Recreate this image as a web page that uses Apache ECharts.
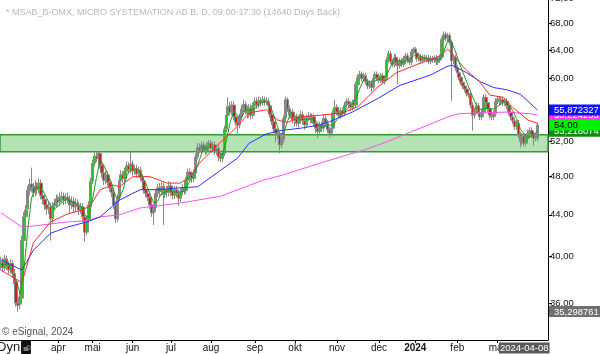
<!DOCTYPE html>
<html><head><meta charset="utf-8">
<script src="https://cdn.jsdelivr.net/npm/echarts@6/dist/echarts.min.js"></script>
<style>html,body{margin:0;padding:0;background:#fff;overflow:hidden}#c{width:600px;height:354px}</style>
</head><body><div id="c"></div>
<script>
// ---- calendar ----
const startDate = '2023-02-20';
const endDate = '2024-04-08';
const holidays = ['2023-04-07','2023-04-10','2023-05-01','2023-05-18','2023-06-06','2023-06-23','2023-12-25','2023-12-26','2024-01-01','2024-03-29','2024-04-01'];
const monthNames = ['jan','feb','mar','apr','mai','jun','jul','aug','sep','okt','nov','dec'];
const blankSlots = ['b1','b2'];

// ---- OHLC ----
const opens = [
39.2,39.5,39.0,39.8,39.2,38.8,39.4,38.5,37.8,36.0,
35.9,36.4,41.5,43.8,44.6,46.5,47.2,46.8,46.3,47.0,
46.6,47.3,46.0,45.6,45.0,44.6,44.8,43.6,44.9,45.2,
45.6,45.3,45.8,45.9,45.5,45.8,45.6,45.0,45.4,44.8,
45.2,44.9,44.5,44.8,43.8,42.3,43.5,45.0,47.5,49.5,
50.3,50.0,50.6,49.3,48.4,47.6,48.2,47.4,46.8,46.3,
45.0,43.6,45.8,47.6,48.2,47.8,48.6,49.2,48.8,49.4,
48.6,48.9,48.3,48.7,47.9,47.5,46.6,46.2,45.8,45.0,
44.2,44.7,46.2,46.8,46.4,46.9,46.1,46.6,46.3,47.0,
46.4,46.0,46.6,46.2,45.7,46.4,46.8,46.5,47.6,48.5,
48.2,47.8,48.4,50.2,51.3,51.0,51.6,51.2,50.9,51.5,
51.8,51.3,51.6,50.8,51.2,50.2,50.0,50.6,53.5,55.2,
56.3,55.6,56.5,55.0,54.3,54.0,55.0,56.0,56.6,55.8,
55.4,56.1,55.2,56.4,57.0,56.5,57.1,56.8,57.2,56.9,
57.0,56.4,55.3,54.4,53.5,53.0,52.8,51.6,52.2,54.8,
57.2,56.0,55.2,55.6,54.6,55.0,54.2,54.8,55.3,54.5,
54.0,54.9,55.1,54.6,55.0,54.2,53.6,53.2,54.0,53.6,
54.8,54.2,53.4,53.0,53.6,55.5,56.2,55.6,55.2,55.8,
55.4,56.5,57.0,56.6,56.2,56.8,56.5,59.2,60.2,60.6,
60.0,60.4,59.6,59.0,59.4,58.8,60.0,60.6,60.1,59.8,
60.4,59.6,60.0,62.6,63.5,62.4,62.0,63.0,62.2,61.8,
62.5,62.0,62.8,63.2,62.6,62.3,63.8,64.2,63.6,62.8,
63.1,62.5,63.0,62.7,62.9,62.4,62.8,62.6,62.9,62.3,
62.6,63.0,65.6,66.3,65.8,66.2,65.2,62.5,63.0,61.5,
60.8,60.2,59.5,59.0,58.6,58.0,57.8,56.5,55.2,55.8,
56.4,55.4,55.0,55.6,57.5,56.8,56.0,55.2,55.0,55.4,
57.0,57.3,56.9,57.2,56.8,57.0,56.4,55.6,55.0,54.5,
53.8,54.2,52.8,52.0,52.6,51.8,52.4,53.0,53.3,52.8,
52.4,52.4];
const closes = [
39.5,39.0,39.8,39.2,38.8,39.4,38.5,37.6,36.0,35.8,
36.5,41.5,43.8,44.5,46.5,47.2,46.8,46.3,47.0,46.6,
47.3,46.0,45.6,45.0,44.6,44.8,43.6,44.9,45.2,45.6,
45.3,45.8,45.9,45.5,45.8,45.6,45.0,45.4,44.8,45.2,
44.9,44.5,44.8,43.8,42.3,43.5,45.0,47.5,49.5,50.3,
50.0,50.6,49.3,48.4,47.6,48.2,47.4,46.8,46.3,45.0,
43.6,45.8,47.6,48.2,47.8,48.6,49.2,48.8,49.4,48.6,
48.9,48.3,48.7,47.9,47.5,46.6,46.2,45.8,45.0,44.2,
44.7,46.2,46.8,46.4,46.9,46.1,46.6,46.3,47.0,46.4,
46.0,46.6,46.2,45.7,46.4,46.8,46.5,47.6,48.5,48.2,
47.8,48.4,50.2,51.3,51.0,51.6,51.2,50.9,51.5,51.8,
51.3,51.6,50.8,51.2,50.2,50.0,50.6,53.5,55.2,56.3,
55.6,56.5,55.0,54.3,54.0,55.0,56.0,56.6,55.8,55.4,
56.1,55.2,56.4,57.0,56.5,57.1,56.8,57.2,56.9,57.0,
56.4,55.3,54.4,53.5,53.0,52.8,51.6,52.2,54.8,57.2,
56.0,55.2,55.6,54.6,55.0,54.2,54.8,55.3,54.5,54.0,
54.9,55.1,54.6,55.0,54.2,53.6,53.2,54.0,53.6,54.8,
54.2,53.4,53.0,53.6,55.5,56.2,55.6,55.2,55.8,55.4,
56.5,57.0,56.6,56.2,56.8,56.5,59.2,60.2,60.6,60.0,
60.4,59.6,59.0,59.4,58.8,60.0,60.6,60.1,59.8,60.4,
59.6,60.0,62.6,63.5,62.4,62.0,63.0,62.2,61.8,62.5,
62.0,62.8,63.2,62.6,62.3,63.8,64.2,63.6,62.8,63.1,
62.5,63.0,62.7,62.9,62.4,62.8,62.6,62.9,62.3,62.6,
63.0,65.6,66.3,65.8,66.2,65.2,62.5,63.0,61.5,60.8,
60.2,59.5,59.0,58.6,58.0,57.8,56.5,55.2,55.8,56.4,
55.4,55.0,55.6,57.5,56.8,56.0,55.2,55.0,55.4,57.0,
57.3,56.9,57.2,56.8,57.0,56.4,55.6,55.0,54.5,53.8,
54.2,52.8,52.0,52.6,51.8,52.4,53.0,53.3,52.8,52.4,
52.6,54.0];
const highs = [
40.0,39.9,40.2,40.1,39.6,39.8,39.7,38.9,38.1,36.4,
36.9,41.9,44.3,45.0,47.0,47.8,49.0,47.3,47.6,47.4,
47.8,47.7,46.4,46.0,45.4,45.3,45.2,45.3,45.7,46.1,
46.0,46.3,46.4,46.3,46.2,46.3,46.0,45.9,45.8,45.7,
45.6,45.3,45.2,45.2,44.2,43.9,45.4,47.9,49.9,50.7,
50.8,50.9,50.8,49.7,48.8,48.6,48.6,47.8,47.2,46.7,
45.4,46.1,48.0,48.7,48.6,49.0,49.7,49.6,50.8,49.8,
49.3,49.3,49.1,49.1,48.3,47.9,47.0,46.6,46.2,45.4,
45.1,46.6,47.2,47.3,47.4,47.3,47.0,47.0,47.5,47.4,
46.8,47.0,47.0,46.6,46.8,47.2,47.2,48.0,48.9,48.9,
48.6,48.8,50.6,51.8,51.8,52.0,52.0,51.6,52.0,52.2,
52.2,52.0,52.0,51.6,51.6,50.6,51.0,53.9,55.6,57.5,
56.9,57.0,57.0,55.5,54.8,55.4,56.5,57.2,57.0,56.4,
56.6,56.6,56.8,57.5,57.5,57.6,57.5,57.7,57.6,57.5,
57.4,56.8,55.7,54.8,53.9,53.4,53.2,52.6,55.2,57.6,
57.5,56.4,56.0,56.0,55.5,55.4,55.2,55.8,55.7,55.0,
55.3,55.6,55.5,55.4,55.4,54.6,54.0,54.4,54.4,55.3,
55.2,54.6,53.8,54.0,55.9,57.2,56.6,56.0,56.2,56.2,
56.9,57.4,57.4,57.0,57.2,57.2,59.6,60.6,61.1,61.0,
60.8,60.8,60.0,59.8,59.8,60.4,61.0,61.0,60.5,60.8,
60.8,60.4,63.0,64.0,63.9,62.8,63.5,63.4,62.6,62.9,
62.9,63.2,63.6,63.6,63.0,64.2,64.5,64.5,64.0,63.5,
63.5,63.4,63.4,63.3,63.3,63.2,63.2,63.3,63.3,63.0,
63.4,66.0,66.8,66.8,66.6,66.6,65.6,63.4,63.4,61.9,
61.2,60.6,59.9,59.4,59.0,58.4,58.2,56.9,56.2,56.8,
56.8,55.8,56.0,57.9,57.9,57.2,56.4,55.6,55.8,57.4,
57.7,57.7,57.6,57.6,57.4,57.4,56.8,56.0,55.4,54.9,
54.6,54.6,53.2,53.0,53.0,52.8,53.4,53.7,53.7,53.2,
53.0,54.3];
const lows = [
38.8,38.6,38.7,38.8,38.4,38.5,38.1,37.2,35.7,35.3,
35.5,36.1,41.0,43.3,44.2,46.0,46.3,45.8,45.9,46.1,
46.2,45.6,45.1,44.5,44.0,44.1,41.5,43.1,44.4,44.8,
44.9,44.9,45.4,45.0,45.1,45.2,44.2,44.6,44.2,44.3,
44.5,44.0,44.1,43.3,41.4,42.0,43.1,44.7,47.2,49.1,
49.6,49.6,48.9,47.9,47.1,47.2,47.0,46.4,45.8,44.6,
43.2,43.3,45.4,47.2,47.3,47.4,48.2,48.3,48.4,48.1,
48.2,47.9,47.9,47.5,47.0,46.2,45.8,45.4,44.6,43.8,
43.0,44.3,45.8,45.9,46.0,43.0,45.7,45.8,45.9,45.9,
45.6,45.6,45.8,44.9,45.3,46.0,46.1,46.1,47.2,47.7,
47.3,47.4,48.1,49.9,50.6,50.6,50.8,50.4,50.5,51.1,
50.9,50.9,50.4,50.4,49.7,49.6,49.6,50.3,53.1,54.8,
55.2,55.2,54.6,53.9,52.8,53.6,54.6,55.6,55.3,54.8,
54.9,54.7,54.8,56.0,56.0,56.1,56.3,56.4,56.4,56.5,
56.0,54.9,54.0,53.0,51.9,52.3,50.6,51.2,51.8,54.4,
55.6,54.8,54.8,54.2,53.8,53.8,53.7,54.3,54.0,53.4,
53.6,54.5,54.2,54.2,53.8,53.0,52.4,52.8,53.2,53.2,
53.8,53.0,52.4,52.6,53.2,55.1,55.2,54.8,54.8,55.0,
55.1,56.1,56.2,55.8,55.8,56.0,56.1,58.8,59.8,59.6,
59.6,59.2,58.6,58.6,58.2,58.5,59.6,59.7,59.4,59.4,
59.2,59.2,59.7,62.2,62.0,61.6,61.6,61.8,59.2,61.4,
61.6,61.6,62.4,62.2,61.9,61.9,63.4,63.2,62.4,62.4,
62.1,62.1,62.3,62.3,62.0,62.0,62.2,62.2,61.9,61.9,
62.2,62.6,65.2,65.3,65.4,64.8,57.0,62.0,61.1,60.4,
59.8,59.1,58.6,58.2,57.6,57.4,56.1,53.3,54.8,55.4,
55.0,54.6,54.6,55.2,56.4,55.6,54.8,54.6,54.6,55.0,
56.6,56.5,56.5,56.4,56.4,56.0,55.2,54.6,54.1,53.4,
53.4,52.4,51.3,51.6,51.4,51.4,52.0,52.6,52.4,51.5,
52.0,52.0];

// ---- moving averages: [bar index, value] ----
const maMagenta = [[0,44.2],[11,42.8],[17,42.9],[35,43.3],[45,43.4],[52,43.8],[62,44.0],[73,44.7],[94,45.2],[115,45.9],[137,47.6],[148,48.2],[167,49.5],[190,51.0],[199,51.7],[211,52.8],[230,54.6],[234,55.0],[240,55.4],[251,55.5],[265,55.6],[277,55.4],[281,55.22]];
const maBlue = [[0,39.7],[11,38.8],[17,40.6],[26,42.2],[35,42.8],[45,43.3],[52,43.8],[62,45.5],[73,46.6],[83,46.6],[94,46.8],[103,46.9],[115,48.7],[124,50.1],[130,51.8],[139,52.9],[146,53.3],[157,53.6],[167,54.0],[172,54.4],[184,55.6],[197,57.3],[209,59.1],[225,60.5],[233,61.6],[236,61.9],[244,60.8],[251,59.6],[258,58.8],[265,58.5],[272,57.9],[281,55.87]];
const maRed = [[0,38.8],[11,37.7],[17,41.3],[26,43.3],[35,44.1],[43,44.5],[47,45.0],[52,46.6],[59,47.1],[62,46.9],[69,48.0],[78,48.0],[87,47.3],[94,47.3],[99,48.0],[104,49.5],[113,51.5],[122,53.4],[130,55.5],[139,55.9],[145,54.6],[150,54.3],[157,55.0],[167,55.2],[179,55.5],[187,56.3],[197,58.8],[207,60.8],[220,62.2],[230,63.2],[234,64.2],[238,62.9],[244,61.1],[251,59.5],[256,57.8],[263,57.5],[268,56.2],[276,54.6],[281,54.2]];
const maGreen = [[0,39.3],[4,39.3],[8,37.9],[10,36.8],[12,38.7],[14,42.5],[16,45.7],[18,46.8],[20,46.8],[22,46.5],[24,45.7],[26,44.9],[28,44.6],[30,44.9],[34,45.6],[38,45.3],[42,44.9],[44,44.0],[46,43.7],[48,45.6],[50,47.9],[52,49.9],[54,49.2],[56,48.2],[58,47.3],[60,45.9],[62,45.7],[64,46.6],[66,48.2],[68,48.8],[72,48.8],[76,47.2],[80,45.2],[82,45.4],[84,46.2],[88,46.5],[92,46.3],[96,46.4],[100,47.9],[102,48.6],[104,49.9],[106,51.2],[110,51.3],[114,50.8],[116,50.4],[118,52.0],[120,54.3],[122,55.7],[124,55.1],[126,54.9],[128,55.9],[132,55.8],[136,56.8],[140,56.9],[142,55.8],[144,54.4],[146,53.0],[148,52.9],[150,54.4],[152,55.6],[156,54.7],[160,54.7],[164,54.7],[168,53.7],[172,54.0],[174,53.9],[176,54.7],[180,55.7],[184,56.6],[186,57.4],[188,58.7],[190,59.9],[194,59.5],[198,59.9],[200,60.0],[202,60.5],[204,61.6],[206,62.7],[210,62.3],[214,62.6],[216,63.2],[218,63.5],[222,62.8],[226,62.7],[230,62.7],[232,63.9],[234,65.4],[236,65.2],[238,63.9],[240,62.2],[244,59.5],[248,57.0],[250,55.9],[254,56.1],[258,56.0],[260,56.3],[264,57.0],[266,56.6],[268,55.8],[270,54.8],[272,53.5],[276,52.4],[281,53.2]];

// ---- axis / annotations ----
const yTicks = [36,40,44,48,52,56,60,64,68,72];
const yMin = 33.09, yMax = 72;
const bandLow = 50.8, bandHigh = 52.8;
const tagValues = [55.224255, 53.218074, 54.00, 55.872327, 35.298761];
const tagTexts  = ['55,224255','53,218074','54,00','55,872327','35,298761'];
const tagStyles = ['mag','dg','g','b','gr'];
const titleText = '* MSAB_B-OMX, MICRO SYSTEMATION AB B, D, 09:00-17:30 (14640 Days Back)';

function tradingDays(){
  const out=[]; const d=new Date(startDate+'T12:00:00Z'); const end=new Date(endDate+'T12:00:00Z');
  while(d<=end){ const w=d.getUTCDay(); const s=d.toISOString().slice(0,10);
    if(w!==0&&w!==6&&holidays.indexOf(s)<0) out.push(s); d.setUTCDate(d.getUTCDate()+1); }
  return out;
}
const dates = tradingDays();
const cats = dates.concat(blankSlots);
const candleData = closes.map((c,i)=>[opens[i],c,lows[i],highs[i]]);

function isMonthStart(i){
  if(i<=0 || i>=dates.length) return false;
  const m=dates[i].slice(0,7), p=dates[i-1].slice(0,7);
  return m!==p && m!=='2023-03' && m!=='2024-04';
}

const chart = echarts.init(document.getElementById('c'), null, {renderer:'canvas'});
const FONT = 'Liberation Sans, Arial, sans-serif';
const lineS = (name,data,color,z)=>({type:'line',name,data,showSymbol:false,symbol:'none',connectNulls:true,
  lineStyle:{color,width:1},itemStyle:{color},z,silent:true,animation:false,clip:true});
const tagStyle = (bg,fg,padR)=>({backgroundColor:bg,color:fg,fontSize:9.5,lineHeight:12,padding:[1,padR,0,5],fontFamily:FONT});

chart.setOption({
  animation:false,
  textStyle:{fontFamily:FONT},
  title:{text:titleText,left:1,top:3,textStyle:{fontSize:9,fontWeight:'normal',color:'#b8b8b8',fontFamily:FONT}},
  grid:{left:0,right:52,top:-1.4,bottom:14,containLabel:false,outerBoundsMode:'none'},
  xAxis:[
    {type:'category',data:cats,boundaryGap:true,position:'bottom',
      axisLine:{show:true,lineStyle:{color:'#000',width:1}},
      axisTick:{show:true,alignWithLabel:true,length:3,interval:(i)=>isMonthStart(i),lineStyle:{color:'#000'}},
      axisLabel:{show:true,interval:(i)=>isMonthStart(i),margin:3,fontSize:10,color:'#111',hideOverlap:false,
        formatter:(v)=>{
          const m=parseInt(v.slice(5,7),10);
          if(m===1) return '{y|'+v.slice(0,4)+'}';
          return monthNames[m-1];
        },
        rich:{y:{fontWeight:'bold',fontSize:10,color:'#111',fontFamily:FONT}}},
      splitLine:{show:false}},
    {type:'category',data:cats,boundaryGap:true,position:'bottom',offset:0,z:6,
      axisLine:{show:false},axisTick:{show:false},splitLine:{show:false},
      axisLabel:{show:true,interval:(i)=>cats[i]===endDate,margin:2,hideOverlap:false,
        formatter:(v)=>'{d|'+v+'}{sp| }',
        rich:{d:{backgroundColor:'#5a5a5a',color:'#fff',fontSize:9.5,lineHeight:12,padding:[1,1,0,1],fontFamily:FONT},
              sp:{width:38}}}}
  ],
  yAxis:[
    {type:'log',logBase:10,position:'right',min:yMin,max:yMax,
      axisLine:{show:true,lineStyle:{color:'#000'}},
      axisTick:{show:true,length:4,customValues:yTicks,lineStyle:{color:'#000'}},
      axisLabel:{show:true,customValues:yTicks,margin:2,fontSize:9.5,color:'#111',hideOverlap:false,
        formatter:(v)=>Math.round(v).toFixed(2).replace('.',',')},
      splitLine:{show:false}},
    {type:'log',logBase:10,position:'right',min:yMin,max:yMax,z:5,
      axisLine:{show:false},axisTick:{show:false},splitLine:{show:false},
      axisLabel:{show:true,customValues:tagValues,margin:1,hideOverlap:false,
        formatter:(v)=>{let k=0,b=1e9;tagValues.forEach((t,i)=>{const dd=Math.abs(t-v);if(dd<b){b=dd;k=i;}});
          return '{'+tagStyles[k]+'|'+tagTexts[k]+'}';},
        rich:{
          b:tagStyle('#1010ff','#fff',8),
          mag:tagStyle('#ff30ff','#fff',8),
          g:tagStyle('#00ee00','#000',24),
          dg:tagStyle('#138a13','#fff',8),
          gr:tagStyle('#707070','#fff',8)}}}
  ],
  series:[
    {type:'candlestick',name:'MSAB_B',data:candleData,barWidth:3,z:2,
      itemStyle:{color:'#28c428',color0:'#cc2020',borderColor:'#8a8a8a',borderColor0:'#8a8a8a',borderWidth:1},
      markArea:{silent:true,itemStyle:{color:'rgba(60,180,60,0.38)',borderColor:'#2f9e2f',borderWidth:1.5},
        data:[[{yAxis:bandLow},{yAxis:bandHigh}]]}},
    lineS('MA long',maMagenta,'#ff4dff',3),
    lineS('MA mid',maBlue,'#2f2fff',3),
    lineS('MA short',maRed,'#ff2a2a',3),
    lineS('MA fast',maGreen,'#1f9a1f',3)
  ],
  graphic:[
    {type:'text',left:2,top:327,style:{text:'© eSignal, 2024',fontSize:10,fill:'#555',fontFamily:FONT},z:10},
    {type:'text',left:-3,top:341,style:{text:'Dyn',fontSize:13,fill:'#222',fontFamily:FONT},z:10},
    {type:'rect',left:21,top:341,shape:{width:10,height:13,r:1},style:{fill:'#111'},z:10},
    {type:'rect',left:23.5,top:347,shape:{width:5,height:4},style:{fill:'#777'},z:11},
    {type:'circle',left:24,top:343,shape:{r:2},style:{fill:'none',stroke:'#777',lineWidth:1},z:11}
  ]
});
</script></body></html>
